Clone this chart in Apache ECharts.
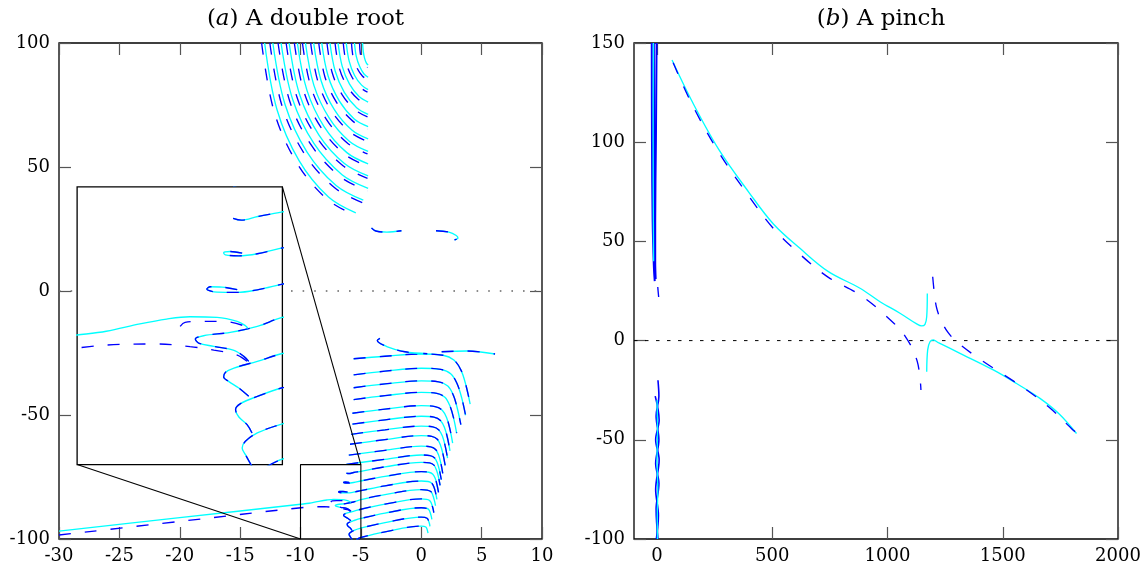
<!DOCTYPE html>
<html><head><meta charset="utf-8">
<script src="https://cdn.jsdelivr.net/npm/echarts@6/dist/echarts.min.js"></script>
<style>html,body{margin:0;padding:0;background:#fff}#c{width:1146px;height:571px}</style>
</head><body><div id="c"></div>
<script>
// ---------------- data ----------------
const titles = ['({i|a}) A double root', '({i|b}) A pinch'];
const rightXLabels = [0, 500, 1000, 1500, 2000];

// (a) upper fan: solid cyan curves
const fanCyan = [
 [[-12.97,100],[-11.95,73.2],[-10.12,52.6],[-7.68,37.9],[-5.42,31.5]],
 [[-12.29,100],[-11.28,75.2],[-9.47,56.1],[-7.05,42.5],[-4.80,36.6]],
 [[-11.61,100],[-10.64,77.1],[-8.89,59.5],[-6.56,46.9],[-4.4,41.4]],
 [[-10.94,100],[-10.06,79.0],[-8.47,62.9],[-6.36,51.4],[-4.4,46.4]],
 [[-10.26,100],[-9.47,81.0],[-8.05,66.3],[-6.16,55.8],[-4.4,51.3]],
 [[-9.59,100],[-8.89,82.9],[-7.63,69.8],[-5.96,60.4],[-4.4,56.3]],
 [[-8.91,100],[-8.30,84.9],[-7.21,73.2],[-5.75,64.9],[-4.4,61.3]],
 [[-8.24,100],[-7.72,86.8],[-6.79,76.7],[-5.55,69.4],[-4.4,66.3]],
 [[-7.56,100],[-7.13,88.7],[-6.37,80.1],[-5.35,73.9],[-4.4,71.2]],
 [[-6.89,100],[-6.55,90.7],[-5.95,83.5],[-5.15,78.4],[-4.4,76.2]],
 [[-6.21,100],[-5.97,92.7],[-5.53,87.0],[-4.94,83.0],[-4.4,81.2]],
 [[-5.53,100],[-5.38,94.6],[-5.10,90.5],[-4.74,87.5],[-4.4,86.2]],
 [[-4.86,100],[-4.80,96.5],[-4.69,93.8],[-4.54,91.9],[-4.4,91.1]]
];
// (a) upper fan: dashed blue curves (just outside each cyan one)
const fanBlue = [
 [[-13.22,100],[-12.20,72.6],[-10.32,51.8],[-7.80,37.0],[-5.47,30.5]],
 [[-12.54,100],[-11.53,74.6],[-9.67,55.3],[-7.17,41.6],[-4.85,35.6]],
 [[-11.86,100],[-10.89,76.5],[-9.09,58.7],[-6.68,46.0],[-4.45,40.4]],
 [[-11.19,100],[-10.31,78.4],[-8.67,62.1],[-6.48,50.5],[-4.45,45.4]],
 [[-10.51,100],[-9.72,80.4],[-8.25,65.5],[-6.28,54.9],[-4.45,50.3]],
 [[-9.84,100],[-9.14,82.3],[-7.83,69.0],[-6.08,59.5],[-4.45,55.3]],
 [[-9.16,100],[-8.55,84.3],[-7.41,72.4],[-5.87,64.0],[-4.45,60.3]],
 [[-8.49,100],[-7.97,86.2],[-6.99,75.9],[-5.67,68.5],[-4.45,65.3]],
 [[-7.81,100],[-7.38,88.1],[-6.57,79.3],[-5.47,73.0],[-4.45,70.2]],
 [[-7.14,100],[-6.80,90.1],[-6.15,82.7],[-5.27,77.5],[-4.45,75.2]],
 [[-6.46,100],[-6.22,92.1],[-5.73,86.2],[-5.06,82.1],[-4.45,80.2]],
 [[-5.78,100],[-5.63,94.0],[-5.30,89.7],[-4.86,86.6],[-4.45,85.2]],
 [[-5.11,100],[-5.05,95.9],[-4.89,93.0],[-4.66,91.0],[-4.45,90.1]]
];
// (a) lower wavy rows (cyan solid and blue dashed share the path)
const lowerRows = [
 [[-5.6,-27.3],[-3,-26.3],[0,-25.4],[1.8,-25.9],[2.7,-27.8],[3.3,-32],[3.7,-38],[4.05,-45.6]],
 [[-5.6,-33.8],[-3,-32.33],[0,-31.16],[1.61,-31.63],[2.46,-33.43],[2.97,-37.41],[3.34,-42.9],[3.67,-50.1]],
 [[-5.6,-39.0],[-3,-37.46],[0,-36.22],[1.44,-36.66],[2.20,-38.34],[2.66,-42.05],[2.98,-47.18],[3.28,-53.9]],
 [[-5.6,-43.8],[-3,-42.19],[0,-40.88],[1.29,-41.29],[1.96,-42.85],[2.37,-46.30],[2.67,-51.06],[2.93,-57.3]],
 [[-5.7,-49.3],[-3,-47.62],[0,-46.24],[1.14,-46.62],[1.74,-48.05],[2.11,-51.21],[2.37,-55.58],[2.6,-61.3]],
 [[-5.7,-53.7],[-3,-51.95],[0,-50.5],[1.05,-50.85],[1.59,-52.18],[1.93,-55.12],[2.17,-59.18],[2.38,-64.5]],
 [[-5.8,-57.8],[-3,-55.98],[0,-54.46],[0.96,-54.78],[1.46,-56.01],[1.77,-58.73],[1.98,-62.48],[2.18,-67.4]],
 [[-5.9,-61.8],[-3,-59.91],[0,-58.32],[0.87,-58.62],[1.33,-59.76],[1.60,-62.27],[1.80,-65.75],[1.98,-70.3]],
 [[-6.0,-66.2],[-3,-64.24],[0,-62.58],[0.78,-62.85],[1.19,-63.89],[1.44,-66.18],[1.62,-69.35],[1.78,-73.5]],
 [[-6.2,-69.9],[-3,-67.87],[0,-66.14],[0.73,-66.39],[1.11,-67.34],[1.34,-69.43],[1.51,-72.32],[1.66,-76.1]],
 [[-6.2,-73.4],[-6.0,-73.6],[-5.6,-73.2],[-5,-72.7],[-3,-70.9],[0,-69.1],[0.69,-69.33],[1.05,-70.22],[1.26,-72.17],[1.42,-74.87],[1.56,-78.4]],
 [[-5.98,-77.16],[-6.27,-76.98],[-6.43,-77.12],[-6.39,-77.34],[-6.06,-77.45],[-5.61,-77.23],[-5,-76.6],[-3,-74.73],[0,-72.86],[0.63,-73.07],[0.96,-73.86],[1.16,-75.61],[1.30,-78.03],[1.43,-81.2]],
 [[-6.10,-81.1],[-6.47,-80.83],[-6.76,-80.79],[-6.84,-81.04],[-6.59,-81.37],[-6.10,-81.40],[-5.61,-81.12],[-5,-80.5],[-3,-78.56],[0,-76.62],[0.57,-76.80],[0.87,-77.51],[1.05,-79.06],[1.18,-81.2],[1.30,-84.0]],
 [[-5.82,-88.85],[-5.94,-88.31],[-6.18,-87.66],[-6.67,-87.23],[-7.04,-86.87],[-7.12,-86.44],[-6.92,-86.08],[-6.27,-85.72],[-5.61,-85.07],[-5,-84.1],[-3,-82.09],[0,-80.08],[0.79,-80.86],[1.07,-84.12],[1.18,-86.6]],
 [[-5.82,-92.63],[-6.06,-91.73],[-6.31,-91.01],[-6.43,-90.54],[-6.39,-90.04],[-6.18,-89.57],[-5.61,-88.85],[-5,-88.0],[-3,-85.92],[0,-83.84],[0.70,-84.51],[0.95,-87.29],[1.04,-89.4]],
 [[-5.74,-96.58],[-5.86,-95.68],[-6.06,-94.86],[-6.14,-94.06],[-6.02,-93.42],[-5.61,-92.63],[-5,-91.7],[-3,-89.55],[0,-87.4],[0.59,-87.96],[0.80,-90.31],[0.88,-92.1]],
 [[-5.74,-100.2],[-5.90,-98.92],[-5.98,-98.2],[-5.90,-97.48],[-5.61,-96.58],[-5,-95.6],[-3,-93.38],[0,-91.16],[0.48,-91.61],[0.66,-93.48],[0.72,-94.9]],
 [[-5.37,-100.2],[-5,-99.4],[-3,-97.11],[0,-94.82],[0.38,-95.15],[0.51,-96.54],[0.56,-97.6]]
];
// (a) short pieces
const topLoop = [[-3.42,-19.1],[-3.64,-20.0],[-2.86,-22.4],[-1.35,-24.5],[0.5,-25.3]];
const topTail = [[1.69,-24.5],[3.76,-24.2],[6.11,-25.4]];
const pieceA = [[-4.12,25.4],[-3.76,24.2],[-2.85,23.75],[-1.64,24.3]];
const pieceB = [[1.22,24.3],[2.29,23.75],[2.9,22.4],[3.04,21.4],[2.75,20.6]];
// (a) long lines from the left
const longCyan = [[-30,-96.8],[-20,-91.4],[-10,-86.0],[-9.29,-85.6],[-8.47,-84.8],[-7.82,-84.28],[-7.25,-84.03],[-6.59,-84.1],[-6.10,-84.53],[-5.90,-85.0],[-5.84,-85.29]];
const longBlue = [[-30,-98.4],[-20,-92.9],[-9.70,-87.26],[-8.06,-86.97],[-7.25,-87.26],[-6.67,-87.63],[-6.10,-88.17],[-5.86,-88.85]];
const hookBlue = [[-7.49,-85.07],[-7.37,-84.64],[-7.0,-84.53],[-6.43,-84.53],[-5.94,-85.0]];
// (a) reference line, zoom box and connectors
const zeroLeft = [[-30,0],[10,0]];
const zoomBox = [[-10,-100],[-10,-70],[-5,-70],[-5,-100]];
const insetBox = {x0:-28.5, x1:-11.5, y0:-70, y1:42};
const connectorA = [[-11.5,42],[-5,-70]];
const connectorB = [[-28.5,-70],[-10,-100]];

// (b) a pinch
const pinchCyanUpper = [[65,141.4],[150,121],[267.5,96.4],[400,74.5],[504.8,58.8],[620,46.5],[741.8,34.9],[880.6,26.4],[967.4,19.6],[1054,13.8],[1126.6,8.4],[1148,7.4],[1162.6,8.2],[1170,12],[1172.6,23.8]];
const pinchCyanLower = [[1170,-15.7],[1174.2,-4.7],[1184.3,-0.6],[1198.7,0.3],[1220.4,-1],[1314.4,-6.4],[1459,-14.8],[1558,-21.5],[1661.5,-29.1],[1745,-37],[1820,-46.8]];
const pinchBlueLeft = [[70,140],[150,119.5],[267.5,95],[400,72.5],[504.8,56.5],[620,43.5],[741.8,32],[880.6,23],[989,12.9],[1076,2.3],[1129.2,-10.6],[1145,-24.9]];
const pinchBlueRight = [[1196,32.2],[1201.7,25.5],[1212,17],[1230.6,10.7],[1260,4.5],[1300,-0.6],[1401,-9.4],[1505,-17.3],[1604,-24.9],[1700,-33.5],[1800,-44.5],[1815,-46]];
const clusterUpperBlue = [
 [[-23,150],[-22,100],[-19,60],[-14,38],[-10,30]],
 [[-2,150],[-5,100],[-8,60],[-8,40],[-6,31]],
 [[-14,150],[-13,110],[-12,70],[-11,45],[-9,32]]
];
const clusterUpperCyan = [[-16,150],[-17,100],[-16,60],[-15,40]];
const clusterTail = [[3,27],[7,22]];
const clusterLowerBlue = [
 [[4,-20],[8,-28],[-4,-38],[8,-50],[-6,-62],[8,-72],[-4,-85],[4,-100]],
 [[-8,-28],[9,-40],[-6,-50],[9,-60],[-6,-75],[6,-88],[-3,-100]]
];
const clusterLowerCyan = [[0,-30],[2,-45],[0,-60],[3,-75],[1,-90],[2,-100]];
const zeroRight = [[-100,0],[2000,0]];

// ---------------- styling / layout ----------------
const FONT = 'DejaVu Serif';
const CYAN = '#00ffff', BLUE = '#0000ff';
const DASH = [12, 14];
const G0 = {left:59, top:43, width:483, height:496};
const G1 = {left:634, top:43, width:484, height:496};
const inset = {
  left: G0.left + (insetBox.x0 + 30) / 40 * G0.width,
  width: (insetBox.x1 - insetBox.x0) / 40 * G0.width,
  top: G0.top + (100 - insetBox.y1) / 200 * G0.height,
  height: (insetBox.y1 - insetBox.y0) / 200 * G0.height
};

function line(data, xi, yi, color, type, opts) {
  return Object.assign({
    type:'line', data, xAxisIndex:xi, yAxisIndex:yi, symbol:'none', showSymbol:false,
    smooth:0.35, silent:true, animation:false,
    lineStyle:{color, width:1.35, type}
  }, opts || {});
}
const series = [];
// panel (a)
series.push(line(zeroLeft, 0, 0, '#666', [1.6, 10], {smooth:false, lineStyle:{color:'#666', width:1.4, type:[1.6,10]}}));
fanCyan.forEach((d,i) => { series.push(line(d,0,0,CYAN,'solid')); series.push(line(fanBlue[i],0,0,BLUE,DASH)); });
function addLower(xi, yi, z) {
  const o = z ? {z} : {};
  lowerRows.forEach(d => { series.push(line(d,xi,yi,CYAN,'solid',o)); series.push(line(d,xi,yi,BLUE,DASH,o)); });
  series.push(line(longCyan,xi,yi,CYAN,'solid',o));
  series.push(line(longBlue,xi,yi,BLUE,DASH,o));
  series.push(line(hookBlue,xi,yi,BLUE,DASH,o));
}
addLower(0, 0, 0);
[topLoop, topTail, pieceA, pieceB].forEach(d => { series.push(line(d,0,0,CYAN,'solid')); series.push(line(d,0,0,BLUE,DASH)); });
const blk = {smooth:false, lineStyle:{color:'#000', width:1.1, type:'solid'}};
series.push(line(zoomBox,0,0,'#000','solid',blk));
series.push(line(connectorA,0,0,'#000','solid',Object.assign({clip:false},blk)));
series.push(line(connectorB,0,0,'#000','solid',Object.assign({clip:false},blk)));
addLower(4, 4, 6);
// panel (b)
series.push(line(zeroRight, 2, 2, '#000', [3.5,7.5], {smooth:false, lineStyle:{color:'#000', width:1, type:[3.5,7.5]}}));
clusterUpperBlue.forEach(d => series.push(line(d,2,2,BLUE,'solid',{lineStyle:{color:BLUE,width:2,type:'solid'}})));
series.push(line(clusterUpperCyan,2,2,CYAN,'solid'));
series.push(line(clusterTail,2,2,BLUE,'solid'));
clusterLowerBlue.forEach(d => series.push(line(d,2,2,BLUE,'solid',{lineStyle:{color:BLUE,width:1.6,type:'solid'}})));
series.push(line(clusterLowerCyan,2,2,CYAN,'solid'));
series.push(line(pinchCyanUpper,2,2,CYAN,'solid'));
series.push(line(pinchCyanLower,2,2,CYAN,'solid'));
series.push(line(pinchBlueLeft,2,2,BLUE,DASH));
series.push(line(pinchBlueRight,2,2,BLUE,DASH));

const tickIn = {show:true, inside:true, length:12, lineStyle:{color:'#555', width:1.2}};
const noLine = {show:false, onZero:false};
const lab = (m) => ({fontFamily:FONT, fontSize:18, color:'#000', margin:m, formatter:(v) => String(v)});
function mirror(extra) {
  return Object.assign({axisLine:noLine, axisLabel:{show:false}, splitLine:{show:false}, axisTick:tickIn}, extra);
}
const option = {
  animation:false,
  backgroundColor:'#fff',
  title: titles.map((t,i) => ({
    text:t, left: i === 0 ? G0.left + G0.width/2 : G1.left + G1.width/2, top:3, textAlign:'center',
    textStyle:{fontFamily:FONT, fontSize:23, fontWeight:'normal', color:'#000',
      rich:{i:{fontFamily:FONT, fontSize:23, fontStyle:'italic', color:'#000'}}}
  })),
  grid: [
    Object.assign({show:true, borderColor:'#000', borderWidth:1.3, backgroundColor:'transparent'}, G0),
    Object.assign({show:true, borderColor:'#000', borderWidth:1.3, backgroundColor:'transparent'}, G1),
    Object.assign({show:true, borderColor:'#000', borderWidth:1.3, backgroundColor:'#fff', z:5}, inset)
  ],
  xAxis: [
    {type:'value', gridIndex:0, position:'bottom', min:-30, max:10, interval:5, axisLine:noLine, splitLine:{show:false}, axisTick:tickIn, axisLabel:lab(8)},
    mirror({type:'value', gridIndex:0, position:'top', min:-30, max:10, interval:5}),
    {type:'value', gridIndex:1, position:'bottom', min:-100, max:2000, axisLine:noLine, splitLine:{show:false},
      axisTick:Object.assign({customValues:rightXLabels}, tickIn), axisLabel:Object.assign({customValues:rightXLabels}, lab(8))},
    mirror({type:'value', gridIndex:1, position:'top', min:-100, max:2000, axisTick:Object.assign({customValues:rightXLabels}, tickIn)}),
    {type:'value', gridIndex:2, min:-10, max:-5, show:false}
  ],
  yAxis: [
    {type:'value', gridIndex:0, position:'left', min:-100, max:100, interval:50, axisLine:noLine, splitLine:{show:false}, axisTick:tickIn, axisLabel:lab(9)},
    mirror({type:'value', gridIndex:0, position:'right', min:-100, max:100, interval:50}),
    {type:'value', gridIndex:1, position:'left', min:-100, max:150, interval:50, axisLine:noLine, splitLine:{show:false}, axisTick:tickIn, axisLabel:lab(9)},
    mirror({type:'value', gridIndex:1, position:'right', min:-100, max:150, interval:50}),
    {type:'value', gridIndex:2, min:-100, max:-70, show:false}
  ],
  series
};
const chart = echarts.init(document.getElementById('c'), null, {renderer:'canvas'});
chart.setOption(option);
</script></body></html>
